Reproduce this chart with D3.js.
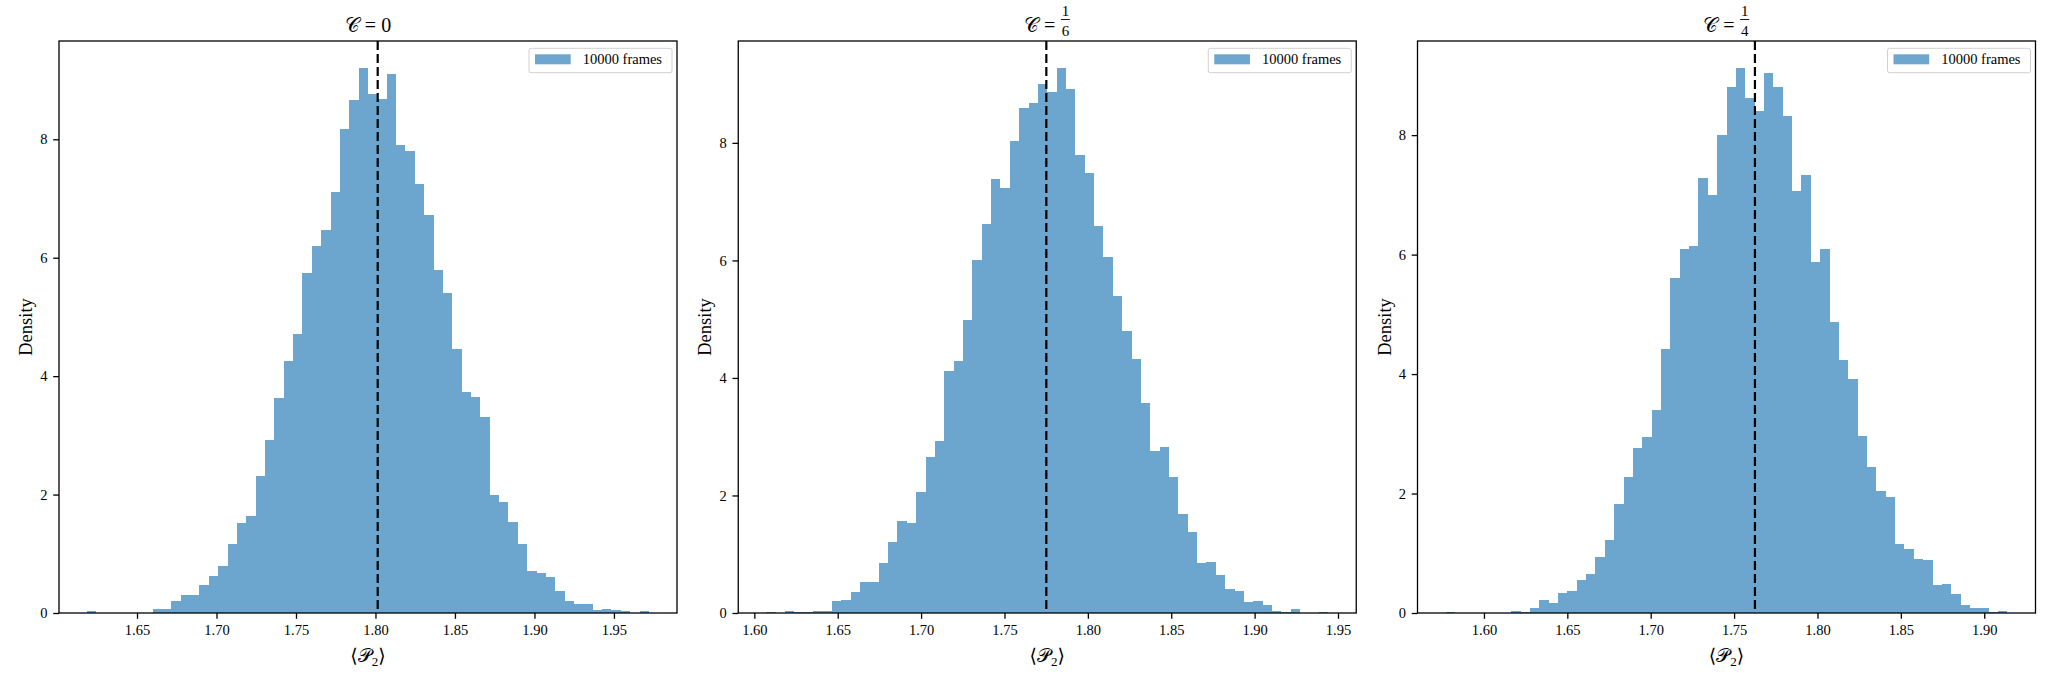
<!DOCTYPE html>
<html>
<head>
<meta charset="utf-8">
<script src="https://cdn.jsdelivr.net/npm/d3@7"></script>
<style>
  body { margin: 0; background: #fff; }
  text { font-family: 'Liberation Serif', 'DejaVu Serif', serif; fill: #000; }
</style>
</head>
<body>
<svg id="fig" width="2048" height="676"></svg>
<script>
// ---- Data (density per bin, 60 bins each) ----
const legendLabel = '10000 frames';
const titleTexts = ['0', '1/6', '1/4'];   // C = ...
const yTicks = [0, 2, 4, 6, 8];

// C = 0
const rangeC0 = [1.6186, 1.9720];
const meanC0 = 1.8014;
const xTicksC0 = [1.65, 1.70, 1.75, 1.80, 1.85, 1.90, 1.95];
const densityC0 = [
  0.03, 0, 0, 0, 0, 0, 0, 0.06, 0.07, 0.20,
  0.31, 0.31, 0.47, 0.63, 0.79, 1.17, 1.52, 1.64, 2.31, 2.93,
  3.63, 4.25, 4.72, 5.74, 6.19, 6.47, 7.11, 8.18, 8.66, 9.20,
  8.77, 8.68, 9.10, 7.91, 7.81, 7.25, 6.72, 5.80, 5.41, 4.46,
  3.74, 3.64, 3.31, 1.99, 1.87, 1.54, 1.17, 0.71, 0.68, 0.60,
  0.37, 0.20, 0.15, 0.15, 0.05, 0.07, 0.05, 0.03, 0, 0.03
];

// C = 1/6
const rangeC16 = [1.6072, 1.9441];
const meanC16 = 1.7751;
const xTicksC16 = [1.60, 1.65, 1.70, 1.75, 1.80, 1.85, 1.90, 1.95];
const densityC16 = [
  0.02, 0, 0.04, 0.02, 0.02, 0.04, 0.04, 0.21, 0.22, 0.36,
  0.53, 0.53, 0.85, 1.20, 1.57, 1.53, 2.06, 2.66, 2.93, 4.12,
  4.29, 4.98, 6.01, 6.62, 7.38, 7.24, 8.04, 8.60, 8.68, 9.00,
  8.87, 9.27, 8.92, 7.79, 7.48, 6.58, 6.05, 5.40, 4.80, 4.32,
  3.57, 2.75, 2.83, 2.31, 1.68, 1.37, 0.85, 0.86, 0.64, 0.40,
  0.38, 0.19, 0.21, 0.14, 0.04, 0.01, 0.06, 0, 0, 0.02
];

// C = 1/4
const rangeC14 = [1.5770, 1.9139];
const meanC14 = 1.7625;
const xTicksC14 = [1.60, 1.65, 1.70, 1.75, 1.80, 1.85, 1.90];
const densityC14 = [
  0.02, 0, 0, 0, 0, 0, 0, 0.04, 0.02, 0.09,
  0.22, 0.16, 0.34, 0.36, 0.56, 0.65, 0.93, 1.22, 1.83, 2.28,
  2.76, 2.94, 3.40, 4.42, 5.60, 6.09, 6.15, 7.29, 7.00, 8.00,
  8.81, 9.12, 8.63, 8.40, 9.04, 8.81, 8.32, 7.07, 7.33, 5.88,
  6.09, 4.88, 4.24, 3.91, 2.96, 2.45, 2.04, 1.95, 1.16, 1.07,
  0.90, 0.88, 0.47, 0.49, 0.31, 0.13, 0.09, 0.09, 0.01, 0.04
];

// ---- Layout ----
const svg = d3.select('#fig');
const panelLeft = [59, 738.25, 1417.5];
const panelW = 618;
const axTop = 41, axBottom = 613;
const barColor = '#1f77b4', barAlpha = 0.65;
const tickLen = 5.8, tickPad = 5.8;

const panels = [
  {range: rangeC0, dens: densityC0, mean: meanC0, ticks: xTicksC0, title: titleTexts[0]},
  {range: rangeC16, dens: densityC16, mean: meanC16, ticks: xTicksC16, title: titleTexts[1]},
  {range: rangeC14, dens: densityC14, mean: meanC14, ticks: xTicksC14, title: titleTexts[2]}
];

panels.forEach((p, i) => drawPanel(p, panelLeft[i]));

function drawPanel(p, left) {
  const w = panelW, h = axBottom - axTop;
  const g = svg.append('g').attr('transform', `translate(${left},${axTop})`);

  // matplotlib-like autoscale: 5% x margin, 5% headroom on y
  const pad = (p.range[1] - p.range[0]) * 0.05;
  const x = d3.scaleLinear().domain([p.range[0] - pad, p.range[1] + pad]).range([0, w]);
  const y = d3.scaleLinear().domain([0, d3.max(p.dens) * 1.05]).range([h, 0]);

  const step = (p.range[1] - p.range[0]) / p.dens.length;
  const bins = p.dens.map((d, k) => ({x0: p.range[0] + k * step, x1: p.range[0] + (k + 1) * step, d}));

  // bars
  g.append('g').attr('opacity', barAlpha)
    .selectAll('rect')
    .data(bins.filter(b => b.d > 0))
    .join('rect')
    .attr('x', b => x(b.x0))
    .attr('width', b => x(b.x1) - x(b.x0))
    .attr('y', b => y(b.d))
    .attr('height', b => y(0) - y(b.d))
    .attr('fill', barColor)
    .attr('shape-rendering', 'crispEdges');

  // mean line
  g.append('line')
    .attr('x1', x(p.mean)).attr('x2', x(p.mean))
    .attr('y1', 0).attr('y2', h)
    .attr('stroke', '#000').attr('stroke-width', 2.2)
    .attr('stroke-dasharray', '9,4');

  // axes
  const xAxis = g.append('g').attr('transform', `translate(0,${h})`)
    .call(d3.axisBottom(x).tickValues(p.ticks).tickFormat(d3.format('.2f'))
      .tickSize(tickLen).tickPadding(tickPad));
  const yAxis = g.append('g')
    .call(d3.axisLeft(y).tickValues(yTicks).tickFormat(d3.format('d'))
      .tickSize(tickLen).tickPadding(tickPad));
  [xAxis, yAxis].forEach(a => {
    a.select('.domain').remove();
    a.selectAll('line').attr('stroke', '#000').attr('stroke-width', 1.3);
    a.selectAll('text').style('font-family', "'Liberation Serif', serif").style('font-size', '14.5px').attr('fill', '#000');
  });

  // frame
  g.append('rect').attr('width', w).attr('height', h)
    .attr('fill', 'none').attr('stroke', '#000').attr('stroke-width', 1.3);

  // y label
  g.append('text')
    .attr('transform', `translate(-27,${h / 2}) rotate(-90)`)
    .attr('text-anchor', 'middle')
    .style('font-size', '18.5px')
    .text('Density');

  // x label  <P_2>
  const xl = g.append('text')
    .attr('x', w / 2).attr('y', h + 49)
    .attr('text-anchor', 'middle')
    .style('font-size', '19px');
  xl.append('tspan').text('\u27E8');
  xl.append('tspan').text('\uD835\uDCAB');
  xl.append('tspan').attr('dy', 4).style('font-size', '13px').text('2');
  xl.append('tspan').attr('dy', -4).text('\u27E9');

  // title
  const parts = p.title.split('/');
  const tg = g.append('g');
  const main = tg.append('text').attr('y', -9).style('font-size', '20px')
    .style('white-space', 'pre')
    .text(parts.length === 1 ? `\uD835\uDC9E = ${parts[0]}` : '\uD835\uDC9E =');
  let tw = main.node().getComputedTextLength();
  if (parts.length === 2) {
    const fx = tw + 10;
    const fr = tg.append('g').attr('transform', `translate(${fx},0)`);
    fr.append('text').attr('x', 0).attr('y', -25).attr('text-anchor', 'middle').style('font-size', '15px').text(parts[0]);
    fr.append('line').attr('x1', -4.5).attr('x2', 4.5).attr('y1', -21.5).attr('y2', -21.5)
      .attr('stroke', '#000').attr('stroke-width', 0.9);
    fr.append('text').attr('x', 0).attr('y', -5).attr('text-anchor', 'middle').style('font-size', '15px').text(parts[1]);
    tw = fx + 5;
  }
  tg.attr('transform', `translate(${w / 2 - tw / 2},0)`);

  // legend
  const lw = 143, lh = 24.4;
  const lg = g.append('g').attr('transform', `translate(${w - 5 - lw},7.3)`);
  lg.append('rect').attr('width', lw).attr('height', lh).attr('rx', 2)
    .attr('fill', '#fff').attr('fill-opacity', 0.8)
    .attr('stroke', '#d0d0d0').attr('stroke-width', 1);
  lg.append('rect').attr('x', 6).attr('y', 6).attr('width', 35.7).attr('height', 10)
    .attr('fill', barColor).attr('fill-opacity', barAlpha);
  lg.append('text').attr('x', 53.7).attr('y', 15.5).style('font-size', '14.5px').text(legendLabel);
}
</script>
</body>
</html>
